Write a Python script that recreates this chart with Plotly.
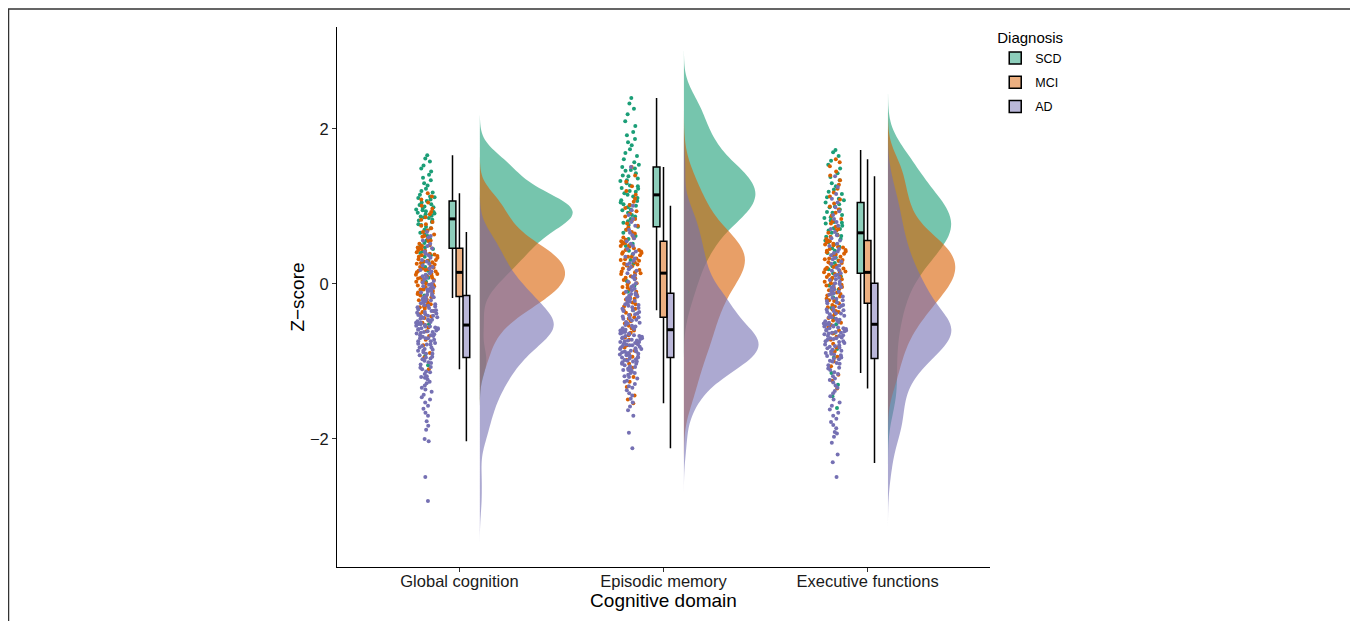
import numpy as np
import plotly.graph_objects as go

# ---------------- data ----------------
domains = ["Global cognition", "Episodic memory", "Executive functions"]
groups = ["SCD", "MCI", "AD"]
group_colors = ["#1B9E77", "#D95F02", "#7570B3"]

# individual z-scores (read approximately from the jittered points)
gc_scd = [-1.05, -0.93, -0.15, 0.03, 0.11, 0.17, 0.26, 0.30, 0.37, 0.40, 0.45, 0.47, 0.53, 0.56, 0.62,
          0.64, 0.70, 0.72, 0.76, 0.77, 0.82, 0.83, 0.86, 0.87, 0.90, 0.91, 0.94, 0.95, 0.98, 0.99,
          1.02, 1.03, 1.07, 1.11, 1.12, 1.18, 1.20, 1.27, 1.30, 1.37, 1.41, 1.49, 1.53, 1.62, 1.66,
          0.08, 0.22, 0.35, 0.42, 0.50, 0.58, 0.66, 0.74, 0.80, 0.85, 0.88, 0.92, 0.96, 1.00, 1.05,
          1.09, 1.15, 1.23, 1.34, 1.45, 1.58, 0.69, 0.93, -0.52, 1.13]
gc_mci = [-1.10, -0.89, -0.79, -0.67, -0.61, -0.53, -0.50, -0.44, -0.42, -0.36, -0.35, -0.30, -0.29,
          -0.24, -0.23, -0.20, -0.19, -0.16, -0.15, -0.12, -0.11, -0.08, -0.07, -0.04, -0.03, -0.01,
          0.02, 0.03, 0.05, 0.08, 0.08, 0.11, 0.12, 0.14, 0.15, 0.17, 0.18, 0.21, 0.22, 0.25, 0.26,
          0.28, 0.30, 0.31, 0.34, 0.35, 0.37, 0.39, 0.40, 0.43, 0.44, 0.45, 0.47, 0.49, 0.50, 0.55,
          0.56, 0.61, 0.62, 0.67, 0.69, 0.75, 0.77, 0.83, 0.86, 0.93, 0.97, 1.05, 1.09, 1.17,
          -0.95, -0.72, -0.56, -0.47, -0.39, -0.32, -0.26, -0.21, -0.17, -0.13, -0.09, -0.05, -0.02,
          0.01, 0.04, 0.07, 0.10, 0.13, 0.16, 0.19, 0.23, 0.27, 0.32, 0.36, 0.41, 0.46, 0.52, 0.58,
          0.64, 0.72, 0.80, 0.90, 1.01, 1.13, 0.20, 0.06, -0.07, 0.29, 0.38, -0.28]
gc_ad = [-2.80, -2.49, -2.03, -1.88, -1.83, -1.70, -1.66, -1.57, -1.53, -1.46, -1.43, -1.36, -1.34,
         -1.28, -1.26, -1.20, -1.19, -1.14, -1.13, -1.08, -1.07, -1.02, -1.01, -0.97, -0.95, -0.94,
         -0.90, -0.90, -0.86, -0.86, -0.82, -0.82, -0.78, -0.78, -0.74, -0.74, -0.70, -0.70, -0.67,
         -0.66, -0.64, -0.62, -0.61, -0.59, -0.58, -0.57, -0.56, -0.55, -0.54, -0.53, -0.52, -0.50,
         -0.49, -0.47, -0.46, -0.44, -0.43, -0.41, -0.40, -0.38, -0.37, -0.35, -0.34, -0.31, -0.30,
         -0.28, -0.27, -0.25, -0.24, -0.21, -0.20, -0.19, -0.17, -0.16, -0.15, -0.13, -0.10, -0.09,
         -0.06, -0.05, -0.02, -0.01, 0.02, 0.04, 0.08, 0.10, 0.14, 0.16, 0.20, 0.22, 0.26, 0.29,
         0.34, 0.37, 0.42, 0.46, 0.52, 0.56, 0.62, 0.67,
         -2.00, -1.77, -1.61, -1.49, -1.39, -1.31, -1.23, -1.16, -1.10, -1.04, -0.99, -0.92, -0.88,
         -0.84, -0.80, -0.76, -0.72, -0.68, -0.65, -0.63, -0.60, -0.57, -0.55, -0.52, -0.51, -0.48,
         -0.45, -0.42, -0.39, -0.36, -0.33, -0.29, -0.26, -0.22, -0.18, -0.14, -0.11, -0.07, -0.03,
         0.00, 0.06, 0.12, 0.18, 0.24, 0.31, 0.39, 0.49, 0.60, -0.62, -0.70, -0.46, -0.58, -0.85,
         -0.35, -1.21, -0.96, -0.41, -0.77, -0.50, -0.66]

em_scd = [-0.34, -0.10, 0.04, 0.21, 0.31, 0.43, 0.49, 0.58, 0.62, 0.70, 0.74, 0.79, 0.81, 0.87, 0.89,
          0.95, 0.96, 1.01, 1.02, 1.07, 1.08, 1.13, 1.15, 1.19, 1.20, 1.26, 1.27, 1.33, 1.34, 1.39,
          1.40, 1.46, 1.47, 1.51, 1.57, 1.61, 1.69, 1.74, 1.83, 1.87, 1.96, 2.04, 2.19, 2.33, 2.40,
          -0.02, 0.26, 0.52, 0.66, 0.76, 0.84, 0.92, 0.99, 1.05, 1.11, 1.17, 1.23, 1.30, 1.36, 1.43,
          1.49, 1.54, 1.65, 1.79, 1.92, 2.10, 2.26, 1.24, 1.03, 0.38]
em_mci = [-1.54, -1.44, -1.33, -1.20, -1.13, -1.03, -0.98, -0.90, -0.86, -0.79, -0.76, -0.69, -0.66,
          -0.60, -0.57, -0.51, -0.48, -0.43, -0.40, -0.34, -0.32, -0.26, -0.24, -0.19, -0.17, -0.12,
          -0.10, -0.05, -0.04, 0.01, 0.02, 0.07, 0.08, 0.12, 0.14, 0.16, 0.20, 0.21, 0.25, 0.26,
          0.30, 0.31, 0.35, 0.35, 0.39, 0.40, 0.44, 0.44, 0.48, 0.49, 0.52, 0.54, 0.55, 0.59, 0.60,
          0.65, 0.67, 0.73, 0.75, 0.81, 0.84, 0.91, 0.94, 1.02, 1.06, 1.15, 1.20, 1.32, 1.40, 1.51,
          -1.49, -1.26, -1.08, -0.94, -0.82, -0.72, -0.63, -0.54, -0.45, -0.37, -0.29, -0.22, -0.14,
          -0.07, -0.01, 0.05, 0.10, 0.15, 0.18, 0.23, 0.28, 0.33, 0.37, 0.42, 0.46, 0.50, 0.57, 0.62,
          0.70, 0.78, 0.87, 0.98, 1.10, 1.26, 0.24, 0.32, 0.13, 0.41, -0.20, 0.53]
em_ad = [-2.12, -1.70, -1.63, -1.53, -1.44, -1.41, -1.34, -1.32, -1.26, -1.25, -1.20, -1.19, -1.15,
         -1.15, -1.11, -1.11, -1.07, -1.06, -1.03, -1.03, -1.00, -0.99, -0.97, -0.96, -0.95, -0.94,
         -0.93, -0.90, -0.90, -0.87, -0.87, -0.84, -0.84, -0.81, -0.80, -0.78, -0.78, -0.75, -0.75,
         -0.73, -0.72, -0.70, -0.69, -0.67, -0.66, -0.64, -0.63, -0.62, -0.60, -0.59, -0.58, -0.55,
         -0.54, -0.51, -0.50, -0.47, -0.46, -0.43, -0.42, -0.39, -0.38, -0.35, -0.34, -0.31, -0.30,
         -0.27, -0.26, -0.23, -0.22, -0.19, -0.18, -0.16, -0.15, -0.13, -0.12, -0.10, -0.06, -0.04,
         0.01, 0.03, 0.09, 0.11, 0.17, 0.19, 0.25, 0.27, 0.33, 0.35, 0.42, 0.45, 0.52, 0.55, 0.63,
         0.66, 0.75, 0.80, 0.89, 0.95, 1.01, 1.51,
         -1.92, -1.58, -1.48, -1.37, -1.29, -1.22, -1.17, -1.13, -1.09, -1.05, -1.01, -0.98, -0.95,
         -0.92, -0.89, -0.86, -0.83, -0.79, -0.77, -0.74, -0.71, -0.68, -0.65, -0.61, -0.57, -0.53,
         -0.49, -0.45, -0.40, -0.36, -0.32, -0.28, -0.24, -0.20, -0.14, -0.08, -0.02, 0.06, 0.14,
         0.22, 0.30, 0.39, 0.49, 0.59, 0.70, 0.84, -0.76, -0.82, -0.70, -0.88, -0.64, -0.79, -0.73,
         -0.91, -0.67, -1.00, -0.85, -0.56, -0.44, -1.10]

ef_scd = [-1.60, -1.45, -1.15, -0.84, -0.63, -0.44, -0.31, -0.17, -0.07, 0.06, 0.14, 0.19, 0.27, 0.30,
          0.37, 0.40, 0.46, 0.48, 0.54, 0.56, 0.61, 0.62, 0.66, 0.71, 0.72, 0.78, 0.79, 0.85, 0.86,
          0.92, 0.93, 0.99, 1.00, 1.05, 1.10, 1.12, 1.19, 1.22, 1.30, 1.34, 1.43, 1.49, 1.59, 1.65, 1.73,
          -1.30, -0.95, -0.52, -0.23, -0.02, 0.10, 0.23, 0.34, 0.43, 0.51, 0.58, 0.64, 0.69, 0.75,
          0.82, 0.89, 0.96, 1.03, 1.08, 1.16, 1.26, 1.38, 1.54, 1.70, 0.80]
ef_mci = [-1.35, -1.17, -1.06, -0.94, -0.87, -0.77, -0.72, -0.64, -0.60, -0.53, -0.50, -0.44, -0.42,
          -0.36, -0.35, -0.30, -0.29, -0.25, -0.22, -0.21, -0.16, -0.15, -0.11, -0.10, -0.06, -0.05,
          -0.02, 0.00, 0.03, 0.05, 0.08, 0.09, 0.12, 0.13, 0.15, 0.17, 0.21, 0.22, 0.26, 0.27, 0.30,
          0.32, 0.35, 0.37, 0.39, 0.42, 0.43, 0.47, 0.48, 0.51, 0.52, 0.55, 0.56, 0.61, 0.63, 0.69,
          0.71, 0.78, 0.81, 0.88, 0.92, 1.00, 1.04, 1.13, 1.18, 1.28, 1.34, 1.45, 1.52, 1.61,
          -1.25, -1.00, -0.82, -0.68, -0.56, -0.47, -0.39, -0.33, -0.27, -0.19, -0.13, -0.08, -0.04,
          0.01, 0.06, 0.10, 0.14, 0.19, 0.24, 0.28, 0.33, 0.38, 0.41, 0.45, 0.50, 0.54, 0.58, 0.66,
          0.74, 0.84, 0.96, 1.09, 1.23, 1.40, 1.57, 0.16, 0.31, -0.01, 0.44, 0.20]
ef_ad = [-2.49, -2.30, -2.05, -1.97, -1.91, -1.82, -1.78, -1.70, -1.66, -1.57, -1.53, -1.45, -1.41,
         -1.34, -1.31, -1.24, -1.22, -1.16, -1.14, -1.09, -1.08, -1.03, -1.02, -0.97, -0.96, -0.95,
         -0.92, -0.91, -0.87, -0.86, -0.83, -0.82, -0.79, -0.78, -0.75, -0.74, -0.71, -0.70, -0.67,
         -0.67, -0.64, -0.63, -0.61, -0.60, -0.58, -0.57, -0.55, -0.55, -0.53, -0.52, -0.51, -0.48,
         -0.47, -0.43, -0.43, -0.39, -0.38, -0.35, -0.34, -0.31, -0.30, -0.27, -0.25, -0.22, -0.21,
         -0.18, -0.16, -0.13, -0.12, -0.09, -0.07, -0.04, -0.03, 0.00, 0.01, 0.05, 0.06, 0.11, 0.12,
         0.17, 0.18, 0.24, 0.26, 0.32, 0.34, 0.40, 0.42, 0.49, 0.52, 0.59, 0.63, 0.71, 0.75, 0.84,
         0.89, 0.99, 1.05, 1.16, 1.25, 1.39,
         -2.20, -1.93, -1.86, -1.74, -1.62, -1.49, -1.38, -1.27, -1.19, -1.11, -1.05, -0.99, -0.93,
         -0.89, -0.85, -0.80, -0.76, -0.72, -0.69, -0.65, -0.62, -0.59, -0.56, -0.54, -0.49, -0.45,
         -0.41, -0.36, -0.33, -0.28, -0.24, -0.19, -0.14, -0.10, -0.05, 0.03, 0.08, 0.14, 0.21,
         0.29, 0.37, 0.45, 0.56, 0.67, 0.80, 0.94, 1.10, -0.60, -0.66, -0.52, -0.70, -0.57, -0.46,
         -0.81, -0.63, -0.38, -0.90, -0.50, -0.74, -1.00]

# boxplot statistics per diagnosis, one value per domain
scd_q1 = [0.46, 0.74, 0.14]
scd_median = [0.84, 1.15, 0.66]
scd_q3 = [1.07, 1.51, 1.05]
scd_lower = [-0.18, -0.34, -1.15]
scd_upper = [1.66, 2.40, 1.73]

mci_q1 = [-0.16, -0.43, -0.25]
mci_median = [0.15, 0.14, 0.15]
mci_q3 = [0.46, 0.55, 0.56]
mci_lower = [-1.10, -1.54, -1.35]
mci_upper = [1.17, 1.51, 1.61]

ad_q1 = [-0.95, -0.95, -0.96]
ad_median = [-0.53, -0.59, -0.52]
ad_q3 = [-0.15, -0.12, 0.01]
ad_lower = [-2.03, -2.12, -2.31]
ad_upper = [0.67, 1.01, 1.39]

# ---------------- assemble ----------------
samples = [
    [gc_scd, em_scd, ef_scd],
    [gc_mci, em_mci, ef_mci],
    [gc_ad, em_ad, ef_ad],
]
box_stats = [
    (scd_q1, scd_median, scd_q3, scd_lower, scd_upper),
    (mci_q1, mci_median, mci_q3, mci_lower, mci_upper),
    (ad_q1, ad_median, ad_q3, ad_lower, ad_upper),
]

xpos = np.arange(1, len(domains) + 1)
POINT_OFF = -0.160
POINT_W = 0.11
BOX_W = 0.033
BOX_OFF = [-0.034, 0.0, 0.034]
VIOLIN_OFF = 0.10
VIOLIN_W = 0.91   # full width parameter of the widest half-violin


def rgba(hexc, a):
    h = hexc.lstrip("#")
    r, g, b = int(h[0:2], 16), int(h[2:4], 16), int(h[4:6], 16)
    return f"rgba({r},{g},{b},{a})"


def nrd0(v):
    v = np.asarray(v, dtype=float)
    sd = v.std(ddof=1)
    q75, q25 = np.percentile(v, [75, 25])
    lo = min(sd, (q75 - q25) / 1.34)
    return 0.9 * lo * len(v) ** (-0.2)


def kde_peak(v, bw):
    v = np.asarray(v, dtype=float)
    grid = np.linspace(v.min() - 3 * bw, v.max() + 3 * bw, 600)
    dens = np.exp(-0.5 * ((grid[:, None] - v[None, :]) / bw) ** 2).sum(axis=1)
    return dens.max() / (len(v) * bw * np.sqrt(2 * np.pi))


# area-scaled violins: width proportional to each density's peak
bws = [[nrd0(samples[gi][di]) for di in range(len(domains))] for gi in range(len(groups))]
peaks = [[kde_peak(samples[gi][di], bws[gi][di]) for di in range(len(domains))]
         for gi in range(len(groups))]
max_peak = max(max(p) for p in peaks)

fig = go.Figure()

# half violins
for gi, g in enumerate(groups):
    for di, d in enumerate(domains):
        vals = samples[gi][di]
        bw = bws[gi][di]
        fig.add_trace(go.Violin(
            y=vals, x0=float(xpos[di] + VIOLIN_OFF), side="positive",
            width=VIOLIN_W * peaks[gi][di] / max_peak,
            bandwidth=bw, spanmode="manual", span=[min(vals) - 3 * bw, max(vals) + 3 * bw],
            points=False, fillcolor=rgba(group_colors[gi], 0.6),
            line=dict(width=0, color="rgba(0,0,0,0)"),
            scalegroup=f"{g}-{di}", scalemode="width", showlegend=False, hoverinfo="skip",
            name=g,
        ))

# jittered raw points
for gi, g in enumerate(groups):
    for di, d in enumerate(domains):
        vals = samples[gi][di]
        fig.add_trace(go.Box(
            y=vals, x0=float(xpos[di] + POINT_OFF), width=POINT_W,
            boxpoints="all", jitter=1, pointpos=0,
            marker=dict(color=group_colors[gi], size=4, line=dict(width=0)),
            fillcolor="rgba(0,0,0,0)", line=dict(color="rgba(0,0,0,0)", width=0),
            showlegend=False, name=g, hoverinfo="y",
        ))

# boxplots
for gi, g in enumerate(groups):
    q1, med, q3, lo, hi = box_stats[gi]
    bx = [float(x + BOX_OFF[gi]) for x in xpos]
    fig.add_trace(go.Box(
        x=bx, q1=q1, median=med, q3=q3, lowerfence=lo, upperfence=hi,
        width=BOX_W, whiskerwidth=0, boxpoints=False,
        fillcolor=rgba(group_colors[gi], 0.5),
        line=dict(color="black", width=1.5),
        name=g, legendgroup=g, showlegend=True,
    ))
    # thicker median bar
    mx, my = [], []
    for x, m in zip(bx, med):
        mx += [x - BOX_W / 2, x + BOX_W / 2, None]
        my += [m, m, None]
    fig.add_trace(go.Scatter(
        x=mx, y=my, mode="lines", line=dict(color="black", width=3),
        showlegend=False, hoverinfo="skip", legendgroup=g,
    ))

FONT = "Liberation Sans, Arial, Helvetica, sans-serif"

# the page adds an 8px body margin, so the figure is laid out 8px smaller
W, H = 1350, 613
L, R, T, B = 329, 368, 19, 54
pw, ph = W - L - R, H - T - B
fig.add_shape(type="rect", xref="paper", yref="paper",
              x0=(0.5 - L) / pw, x1=(1347 - L) / pw,
              y0=-(660 - (H - B)) / ph, y1=((H - B) - 1) / ph,
              line=dict(color="#333333", width=1.5), fillcolor="rgba(0,0,0,0)", layer="above")

fig.update_layout(
    width=W, height=H,
    margin=dict(l=L, r=R, t=T, b=B, pad=0),
    plot_bgcolor="white", paper_bgcolor="white",
    boxmode="overlay", violinmode="overlay",
    font=dict(family=FONT, color="black"),
    legend=dict(
        title=dict(text="Diagnosis", font=dict(size=15, color="black")),
        font=dict(size=12.5, color="black"),
        x=1.008, y=1.006, xanchor="left", yanchor="top",
        bgcolor="rgba(0,0,0,0)", tracegroupgap=5, traceorder="grouped",
    ),
    xaxis=dict(
        range=[0.4, 3.6], tickmode="array", tickvals=list(xpos), ticktext=domains,
        showline=True, linecolor="black", linewidth=1, ticks="outside", ticklen=4,
        tickcolor="#333333", showgrid=False, zeroline=False, ticklabelstandoff=-5,
        tickfont=dict(size=16.5, color="#1a1a1a"),
        title=dict(text="Cognitive domain", font=dict(size=19, color="black"), standoff=2),
    ),
    yaxis=dict(
        range=[-3.652, 3.316], tickmode="array", tickvals=[-2, 0, 2],
        ticktext=["\u22122", "0", "2"],
        showline=True, linecolor="black", linewidth=1, ticks="outside", ticklen=4,
        tickcolor="#333333", showgrid=False, zeroline=False,
        tickfont=dict(size=16.5, color="#1a1a1a"),
        title=dict(text="Z\u2212score", font=dict(size=19, color="black"), standoff=0),
    ),
)

fig.write_html("out.html")
